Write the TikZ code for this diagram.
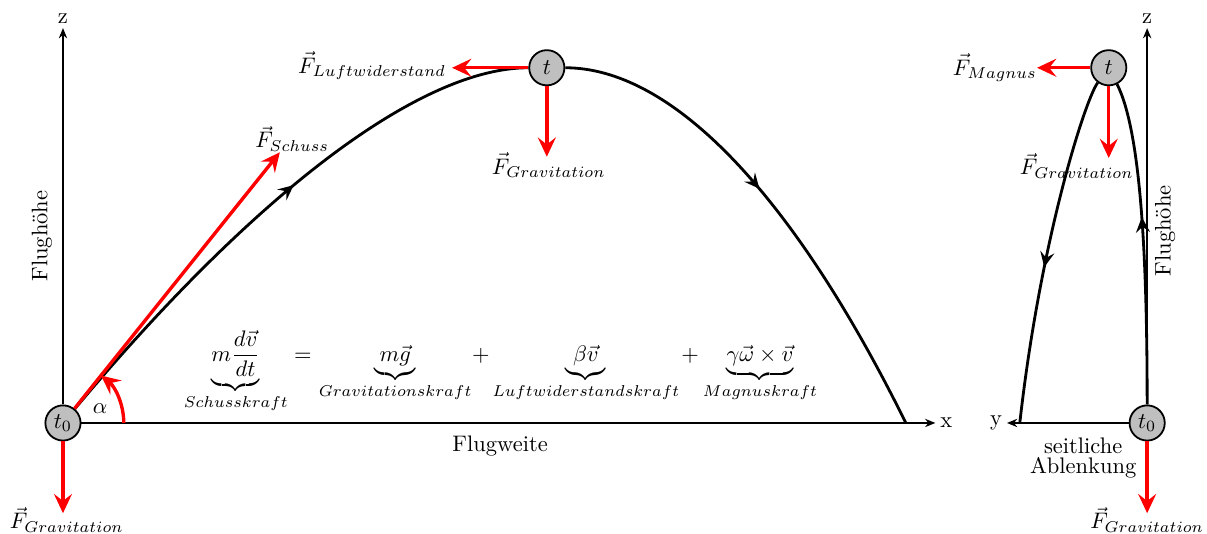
\documentclass[tikz,border=0pt]{standalone}
\usepackage{amsmath,amssymb}
\usepackage{tikz}
\usetikzlibrary{positioning,arrows.meta,decorations.markings}

\begin{document}
\begin{tikzpicture}[
            body/.style={circle, draw, fill=gray!50, minimum size=5.5mm, inner sep=0pt, line width=0.8pt},
            axis/.style={draw, line width=0.7pt, -{Stealth[length=1.6mm, width=1.3mm]}},
            force/.style={draw, red, line width=1.5pt, -{Stealth[length=3mm, width=2.8mm, inset=1.1mm]}},
            traj/.style={draw, line width=1.25pt},
            flow/.style={postaction={decorate}, decoration={markings,
                mark=at position #1 with {\arrow{Stealth[length=2.4mm, width=2.2mm, inset=0.9mm]}}}},
            lbl/.style={inner sep=1pt}
        ]
        \useasboundingbox (-0.984,-1.734) rectangle (17.875,6.609);

        % Ball positions
        \node[body] (t0)  at (0,0)        {$t_0$};
        \node[body] (t)   at (7.56,5.55)  {$t$};
        \node[body] (t0r) at (16.94,0)    {$t_0$};
        \node[body] (tr)  at (16.34,5.55) {$t$};

        % Axis ends
        \coordinate (z1) at (0,6.17);
        \coordinate (x1) at (13.63,0);
        \coordinate (z2) at (16.94,6.17);
        \coordinate (y2) at (14.75,0);
        \coordinate (land)  at (13.17,0);
        \coordinate (land2) at (14.95,0);

        % Axes
        \draw[axis] (t0) -- (z1);
        \draw[axis] (t0) -- (x1);
        \draw[axis] (t0r) -- (z2);
        \draw[axis] (t0r) -- (y2);
        \node[lbl] (zl1) [above=1pt of z1] {z};
        \node[lbl] (xl1) [right=1pt of x1] {x};
        \node[lbl] (zl2) [above=1pt of z2] {z};
        \node[lbl] (yl2) [left=1pt of y2]  {y};
        \node[rotate=90] (hoehe1) at (-0.33,2.92) {Flughöhe};
        \node[rotate=90] (hoehe2) at (17.22,3.0)  {Flughöhe};
        \node (weite) at (6.83,-0.36) {Flugweite};
        \node[align=center] (ablenk) at (15.94,-0.55) {seitliche\\[-3pt]Ablenkung};

        % Trajectories
        \draw[traj, flow=0.54] (t0) .. controls (3.10,3.70) and (5.63,5.55) .. (t);
        \draw[traj, flow=0.46] (t) .. controls (9.46,5.55) and (11.34,3.70) .. (land);
        \draw[traj, flow=0.58] (t0r) .. controls (16.94,2.70) and (16.83,4.58) .. (tr);
        \draw[traj, flow=0.55] (tr) .. controls (15.97,5.05) and (15.27,2.86) .. (land2);

        % Force ends
        \coordinate (schuss) at (51.3:5.42);
        \coordinate (g0)     at (0,-1.41);
        \coordinate (luft)   at (6.08,5.55);
        \coordinate (gt)     at (7.56,4.16);
        \coordinate (magnus) at (15.22,5.55);
        \coordinate (gtr)    at (16.34,4.14);
        \coordinate (g0r)    at (16.94,-1.41);
        \coordinate (arc0)   at (0.95,0);

        % Forces
        \draw (t0)  edge[force] (schuss);
        \draw (t0)  edge[force] (g0);
        \draw (t)   edge[force] (luft);
        \draw (t)   edge[force] (gt);
        \draw (tr)  edge[force] (magnus);
        \draw (tr)  edge[force] (gtr);
        \draw (t0r) edge[force] (g0r);
        \draw[force] (arc0) arc[start angle=0, end angle=51.3, radius=0.95];
        \node (alpha) at (0.58,0.23) {$\alpha$};

        % Force labels
        \node[lbl] (lschuss) at (3.58,4.44)   {$\vec{F}_{Schuss}$};
        \node[lbl] (lg0)     at (0.06,-1.51)  {$\vec{F}_{Gravitation}$};
        \node[lbl] (lluft)   at (4.83,5.58)   {$\vec{F}_{Luftwiderstand}$};
        \node[lbl] (lgt)     at (7.59,4.03)   {$\vec{F}_{Gravitation}$};
        \node[lbl] (lmagnus) at (14.56,5.55)  {$\vec{F}_{Magnus}$};
        \node[lbl] (lgtr)    at (15.84,4.02)  {$\vec{F}_{Gravitation}$};
        \node[lbl] (lg0r)    at (16.94,-1.51) {$\vec{F}_{Gravitation}$};

        % Equation of motion
        \node[anchor=base] (eq1) at (2.70,0.96)  {$\displaystyle\underbrace{m\frac{d\vec{v}}{dt}}_{Schusskraft}$};
        \node[anchor=base] (eq2) at (3.75,0.96)  {$=$};
        \node[anchor=base] (eq3) at (5.19,0.96)  {$\displaystyle\underbrace{m\vec{g}}_{Gravitationskraft}$};
        \node[anchor=base] (eq4) at (6.53,0.96)  {$+$};
        \node[anchor=base] (eq5) at (8.17,0.96)  {$\displaystyle\underbrace{\beta\vec{v}}_{Luftwiderstandskraft}$};
        \node[anchor=base] (eq6) at (9.80,0.96)  {$+$};
        \node[anchor=base] (eq7) at (10.89,0.96) {$\displaystyle\underbrace{\gamma\vec{\omega}\times\vec{v}}_{Magnuskraft}$};
    \end{tikzpicture}
\end{document}
